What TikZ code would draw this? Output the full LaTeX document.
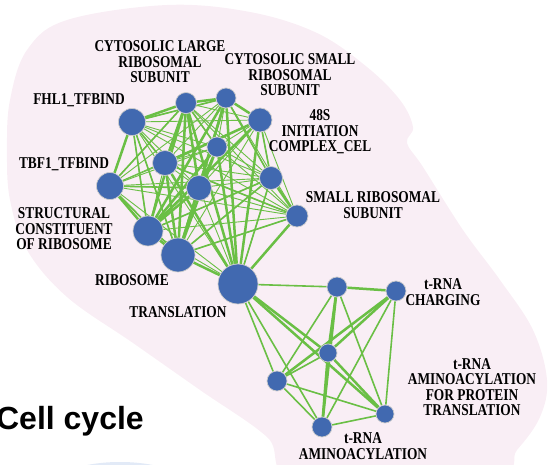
\documentclass[tikz,border=0pt]{standalone}
\usepackage{fontspec}
\setmainfont{Liberation Serif}
\newfontfamily\lblfont[FakeStretch=0.81]{Liberation Serif}
\newfontfamily\headfont{Liberation Sans}
\definecolor{nodeblue}{RGB}{65,105,176}
\definecolor{edgegreen}{RGB}{106,191,69}
\definecolor{blobpink}{RGB}{249,238,245}
\definecolor{blobblue}{RGB}{226,234,247}
\pgfdeclarelayer{blob}
\pgfdeclarelayer{links}
\pgfsetlayers{blob,links,main}

\begin{document}
\begin{tikzpicture}[x=1pt, y=-1pt,
	term/.style={circle, fill=nodeblue, draw=gray!40, line width=0.7pt, inner sep=0pt, minimum size=#1},
	lbl/.style={font=\lblfont\bfseries\fontsize{16.5}{15.5}\selectfont, align=center, inner sep=0pt},
	thinlink/.style={edgegreen, line width=0.9pt},
	medlink/.style={edgegreen, line width=1.6pt},
	thicklink/.style={edgegreen, line width=2.5pt}]
	\useasboundingbox (0,0) rectangle (550,465);
	\clip (0,0) rectangle (550,465);

	% ribosome cluster
	\node[term=27pt] (FHL1) at (132,122) {};
	\node[term=21pt] (CLRS) at (186,103) {};
	\node[term=20pt] (CSRS) at (226,98) {};
	\node[term=24pt] (S48) at (260,120) {};
	\node[term=20pt] (inA) at (217,147) {};
	\node[term=25pt] (inB) at (165,163) {};
	\node[term=25pt] (inC) at (199,188) {};
	\node[term=23pt] (rmid) at (271,178) {};
	\node[term=27pt] (TBF1) at (110,186) {};
	\node[term=22pt] (SRS) at (297,216) {};
	\node[term=30pt] (SCR) at (148,231) {};
	\node[term=34pt] (RIB) at (178,255) {};
	\node[term=40pt] (TRL) at (238,284) {};

	% t-RNA cluster
	\node[term=20pt] (tA) at (337,287) {};
	\node[term=20pt] (CHG) at (396,291) {};
	\node[term=18pt] (tC) at (328,353) {};
	\node[term=20pt] (tL) at (277,381) {};
	\node[term=18pt] (APT) at (385,414) {};
	\node[term=20pt] (AMI) at (322,427) {};

	% labels
	\node[lbl] (lCLRS) at (160,62) {CYTOSOLIC LARGE\\RIBOSOMAL\\SUBUNIT};
	\node[lbl] (lCSRS) at (290,75) {CYTOSOLIC SMALL\\RIBOSOMAL\\SUBUNIT};
	\node[lbl] (lFHL1) at (79,100) {FHL1\_TFBIND};
	\node[lbl] (lS48) at (320,132) {48S\\INITIATION\\COMPLEX\_CEL};
	\node[lbl] (lTBF1) at (64,164) {TBF1\_TFBIND};
	\node[lbl] (lSCR) at (64,229) {STRUCTURAL\\CONSTITUENT\\OF RIBOSOME};
	\node[lbl] (lSRS) at (373,205) {SMALL RIBOSOMAL\\SUBUNIT};
	\node[lbl] (lRIB) at (132,280) {RIBOSOME};
	\node[lbl] (lTRL) at (178,312) {TRANSLATION};
	\node[lbl] (lCHG) at (443,292) {t-RNA\\CHARGING};
	\node[lbl] (lAPT) at (472,387) {t-RNA\\AMINOACYLATION\\FOR PROTEIN\\TRANSLATION};
	\node[lbl] (lAMI) at (363,446) {t-RNA\\AMINOACYLATION};
	\node[font=\headfont\bfseries\fontsize{32}{32}\selectfont, anchor=base east, inner sep=0pt] (cell) at (144,430) {Cell cycle};

	\begin{pgfonlayer}{blob}
		\fill[blobpink] plot[smooth cycle, tension=0.6] coordinates {(267,437) (200,390) (133,343) (67,297) (27,250) (10,200) (7,150) (10,100) (27,50) (67,20) (167,5) (250,12) (317,33) (367,67) (400,100) (413,127) (407,143) (423,167) (463,230) (500,280) (533,330) (547,380) (540,417) (517,450) (490,475) (300,480)};
		\fill[blobblue] (120,482) ellipse (62pt and 20pt);
	\end{pgfonlayer}

	\begin{pgfonlayer}{links}
		\foreach \a [count=\i] in {FHL1,CLRS,CSRS,S48,inA,inB,inC,rmid,TBF1,SRS,SCR,RIB,TRL} {
			\foreach \b [count=\j] in {FHL1,CLRS,CSRS,S48,inA,inB,inC,rmid,TBF1,SRS,SCR,RIB,TRL} {
				\ifnum\j>\i \draw[thinlink] (\a) -- (\b); \fi
			}
		}
		\foreach \a/\b in {FHL1/CSRS, FHL1/inB, FHL1/SCR, FHL1/RIB, TBF1/inC, TBF1/RIB, TBF1/CLRS,
			rmid/TRL, rmid/RIB, rmid/SCR, SRS/RIB, SRS/inB, S48/rmid, CSRS/rmid, inA/CLRS, inA/inC}
			\draw[medlink] (\a) -- (\b);
		\foreach \a/\b in {CLRS/RIB, CLRS/SCR, CLRS/TRL, CSRS/RIB, CSRS/TRL, CSRS/SCR, CSRS/inC,
			CLRS/inB, CLRS/inC, S48/TRL, S48/SCR, S48/inB, inB/TRL, inB/RIB, inC/RIB, inC/SCR,
			inA/SCR, inA/RIB, inA/TRL, rmid/SRS, SRS/TRL, FHL1/TBF1, TBF1/SCR, SCR/RIB, RIB/TRL,
			CSRS/S48, CLRS/CSRS, CLRS/FHL1}
			\draw[thicklink] (\a) -- (\b);
		\foreach \a/\b in {TRL/tA, TRL/tL, TRL/AMI, tA/tL, tA/APT, CHG/AMI, CHG/APT, tC/tL,
			tL/AMI, tL/APT, AMI/APT}
			\draw[medlink] (\a) -- (\b);
		\foreach \a/\b in {TRL/tC, TRL/APT, tA/CHG, tA/tC, tA/AMI, CHG/tC, CHG/tL, tC/APT, tC/AMI}
			\draw[thicklink] (\a) -- (\b);
	\end{pgfonlayer}
\end{tikzpicture}
\end{document}
